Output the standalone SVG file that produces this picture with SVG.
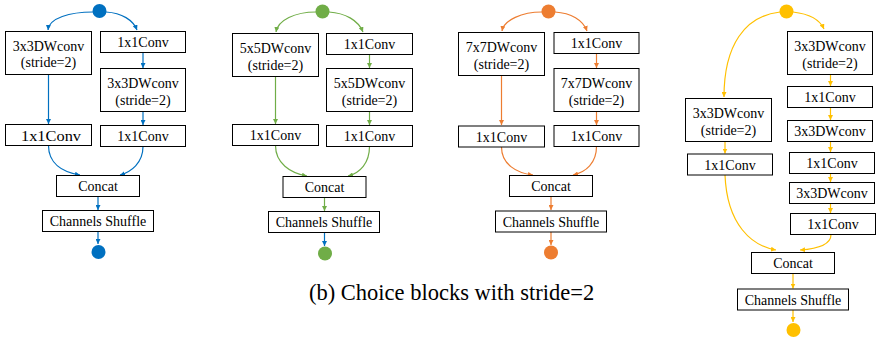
<svg xmlns="http://www.w3.org/2000/svg" width="877" height="337" viewBox="0 0 877 337" font-family="Liberation Serif, Times New Roman, serif">
<style>
.box{fill:#fff;stroke:#000;stroke-width:1}
.t{font-size:14px;text-anchor:middle;fill:#000}
.cap{font-size:22.5px;fill:#000}
.c{fill:none;stroke-width:1.2}
.bl{stroke:#0070C0}.gr{stroke:#70AD47}.or{stroke:#ED7D31}.ye{stroke:#FFC000}
</style>
<defs>
<marker id="ab" markerWidth="5" markerHeight="5" refX="5" refY="2.5" orient="auto" markerUnits="userSpaceOnUse"><path d="M0,0 L5,2.5 L0,5 z" fill="#0070C0"/></marker>
<marker id="ag" markerWidth="5" markerHeight="5" refX="5" refY="2.5" orient="auto" markerUnits="userSpaceOnUse"><path d="M0,0 L5,2.5 L0,5 z" fill="#70AD47"/></marker>
<marker id="ao" markerWidth="5" markerHeight="5" refX="5" refY="2.5" orient="auto" markerUnits="userSpaceOnUse"><path d="M0,0 L5,2.5 L0,5 z" fill="#ED7D31"/></marker>
<marker id="ay" markerWidth="5" markerHeight="5" refX="5" refY="2.5" orient="auto" markerUnits="userSpaceOnUse"><path d="M0,0 L5,2.5 L0,5 z" fill="#FFC000"/></marker>
</defs>

<g id="connectors">
<g class="c bl" marker-end="url(#ab)">
<path d="M93,12 C70,12 49,18 48,30"/>
<path d="M106,12 C122,13 133,20 137,30"/>
<path d="M48.5,74.5 V124"/>
<path d="M143,52.5 V68"/>
<path d="M143,111.5 V125"/>
<path d="M48.5,145.5 C48.5,163 62,172 80,175"/>
<path d="M143,146.5 C143,163 131,172 120,175"/>
<path d="M98,196.5 V210"/>
<path d="M98,231.5 V244"/>
</g>
<g class="c gr" marker-end="url(#ag)">
<path d="M316,12 C295,12 278,20 276,32"/>
<path d="M329,12 C345,13 358,20 363,32"/>
<path d="M275.5,76.5 V124"/>
<path d="M369.5,54.5 V68"/>
<path d="M369.5,111.5 V125"/>
<path d="M275.5,145.5 C275.5,163 290,173 307,176"/>
<path d="M369.5,146.5 C369.5,163 360,173 348,176"/>
<path d="M324.5,197.5 V211"/>
</g>
<path class="c bl" marker-end="url(#ab)" d="M324.5,232.5 V246"/>
<g class="c or" marker-end="url(#ao)">
<path d="M542,12 C522,12 504,20 502,31"/>
<path d="M555,12 C571,13 583,20 587,31"/>
<path d="M501.5,75.5 V125"/>
<path d="M596.5,53.5 V68"/>
<path d="M596.5,111.5 V125"/>
<path d="M501.5,147 C501.5,164 516,173 533,175"/>
<path d="M596.5,146.5 C596.5,163 586,172 573,175"/>
<path d="M551,196.5 V210"/>
<path d="M551,232 V245"/>
</g>
<g class="c ye" marker-end="url(#ay)">
<path d="M780,12 C745,16 724,45 724,97"/>
<path d="M793,12 C810,14 820,20 824,29"/>
<path d="M830.5,74.5 V86"/>
<path d="M830.5,107.5 V120"/>
<path d="M830.5,141.5 V152"/>
<path d="M830.5,173.5 V182"/>
<path d="M830.5,203.5 V213"/>
<path d="M725,141.5 V153.5"/>
<path d="M725,175 C727,225 752,246 776,250"/>
<path d="M831,234.5 C831,246 815,249 800,250"/>
<path d="M793,273.5 V288.5"/>
<path d="M793,310 V322"/>
</g>
</g>

<g id="block1">
<circle id="b1-in" cx="99.5" cy="11" r="7" fill="#0070C0"/>
<g id="b1-dw-l"><rect class="box" x="5.5" y="31.5" width="86" height="43"/><text class="t" x="48.5" y="50.5">3x3DWconv</text><text class="t" x="48.5" y="67">(stride=2)</text></g>
<g id="b1-pw-r1"><rect class="box" x="100.5" y="31.5" width="85" height="21"/><text class="t" x="143" y="47">1x1Conv</text></g>
<g id="b1-dw-r"><rect class="box" x="100.5" y="68.5" width="85" height="43"/><text class="t" x="143" y="88">3x3DWconv</text><text class="t" x="143" y="104.5">(stride=2)</text></g>
<g id="b1-pw-l"><rect class="box" x="5.5" y="124.5" width="86" height="21"/><text class="t" x="51" y="140.5" style="font-size:15px" textLength="60" lengthAdjust="spacingAndGlyphs">1x1Conv</text></g>
<g id="b1-pw-r2"><rect class="box" x="100.5" y="125.5" width="85" height="21"/><text class="t" x="143" y="141">1x1Conv</text></g>
<g id="b1-concat"><rect class="box" x="56.5" y="175.5" width="83" height="21"/><text class="t" x="98" y="191">Concat</text></g>
<g id="b1-shuffle"><rect class="box" x="42.5" y="210.5" width="111" height="21"/><text class="t" x="98" y="226">Channels Shuffle</text></g>
<circle id="b1-out" cx="98.5" cy="252" r="7" fill="#0070C0"/>
</g>

<g id="block2">
<circle id="b2-in" cx="322.5" cy="11.5" r="7" fill="#70AD47"/>
<g id="b2-dw-l"><rect class="box" x="232.5" y="33.5" width="86" height="43"/><text class="t" x="275.5" y="53">5x5DWconv</text><text class="t" x="275.5" y="69.5">(stride=2)</text></g>
<g id="b2-pw-r1"><rect class="box" x="326.5" y="33.5" width="86" height="21"/><text class="t" x="369.5" y="49">1x1Conv</text></g>
<g id="b2-dw-r"><rect class="box" x="326.5" y="68.5" width="86" height="43"/><text class="t" x="369.5" y="88">5x5DWconv</text><text class="t" x="369.5" y="104.5">(stride=2)</text></g>
<g id="b2-pw-l"><rect class="box" x="232.5" y="124.5" width="86" height="21"/><text class="t" x="275.5" y="140">1x1Conv</text></g>
<g id="b2-pw-r2"><rect class="box" x="326.5" y="125.5" width="86" height="21"/><text class="t" x="369.5" y="141">1x1Conv</text></g>
<g id="b2-concat"><rect class="box" x="283" y="176.5" width="83" height="21"/><text class="t" x="324.5" y="192">Concat</text></g>
<g id="b2-shuffle"><rect class="box" x="268.5" y="211.5" width="111" height="21"/><text class="t" x="324" y="227">Channels Shuffle</text></g>
<circle id="b2-out" cx="325" cy="253.5" r="7" fill="#70AD47"/>
</g>

<g id="block3">
<circle id="b3-in" cx="548.5" cy="11.5" r="7" fill="#ED7D31"/>
<g id="b3-dw-l"><rect class="box" x="458.5" y="32.5" width="86" height="43"/><text class="t" x="501.5" y="52">7x7DWconv</text><text class="t" x="501.5" y="68.5">(stride=2)</text></g>
<g id="b3-pw-r1"><rect class="box" x="554" y="32.5" width="85" height="21"/><text class="t" x="596.5" y="48">1x1Conv</text></g>
<g id="b3-dw-r"><rect class="box" x="554" y="68.5" width="85" height="43"/><text class="t" x="596.5" y="88">7x7DWconv</text><text class="t" x="596.5" y="104.5">(stride=2)</text></g>
<g id="b3-pw-l"><rect class="box" x="458.5" y="126" width="86" height="21"/><text class="t" x="501.5" y="141.5">1x1Conv</text></g>
<g id="b3-pw-r2"><rect class="box" x="554" y="125.5" width="85" height="21"/><text class="t" x="596.5" y="141">1x1Conv</text></g>
<g id="b3-concat"><rect class="box" x="509.5" y="175.5" width="83" height="21"/><text class="t" x="551" y="191">Concat</text></g>
<g id="b3-shuffle"><rect class="box" x="495.5" y="211" width="111" height="21"/><text class="t" x="551" y="226.5">Channels Shuffle</text></g>
<circle id="b3-out" cx="551" cy="252.5" r="7" fill="#ED7D31"/>
</g>

<g id="block4">
<circle id="b4-in" cx="786.5" cy="11.5" r="7" fill="#FFC000"/>
<g id="b4-dw-r1"><rect class="box" x="787.5" y="31.5" width="85" height="43"/><text class="t" x="830" y="51">3x3DWconv</text><text class="t" x="830" y="67.5">(stride=2)</text></g>
<g id="b4-pw-r1"><rect class="box" x="787.5" y="86.5" width="85" height="21"/><text class="t" x="830" y="102">1x1Conv</text></g>
<g id="b4-dw-r2"><rect class="box" x="787.5" y="120.5" width="85" height="21"/><text class="t" x="830" y="136">3x3DWconv</text></g>
<g id="b4-pw-r2"><rect class="box" x="789.5" y="152.5" width="85" height="21"/><text class="t" x="832" y="168">1x1Conv</text></g>
<g id="b4-dw-r3"><rect class="box" x="789.5" y="182.5" width="85" height="21"/><text class="t" x="832" y="198">3x3DWconv</text></g>
<g id="b4-pw-r3"><rect class="box" x="790.5" y="213.5" width="85" height="21"/><text class="t" x="833" y="229">1x1Conv</text></g>
<g id="b4-dw-l"><rect class="box" x="685.5" y="98.5" width="86" height="43"/><text class="t" x="728.5" y="118">3x3DWconv</text><text class="t" x="728.5" y="134.5">(stride=2)</text></g>
<g id="b4-pw-l"><rect class="box" x="687.5" y="154" width="85" height="21"/><text class="t" x="730" y="169.5">1x1Conv</text></g>
<g id="b4-concat"><rect class="box" x="751.5" y="252.5" width="83" height="21"/><text class="t" x="793" y="268">Concat</text></g>
<g id="b4-shuffle"><rect class="box" x="737.5" y="289" width="111" height="21"/><text class="t" x="793" y="304.5">Channels Shuffle</text></g>
<circle id="b4-out" cx="793.5" cy="330" r="7" fill="#FFC000"/>
</g>

<text class="cap" x="309" y="300">(b) Choice blocks with stride=2</text>
</svg>
